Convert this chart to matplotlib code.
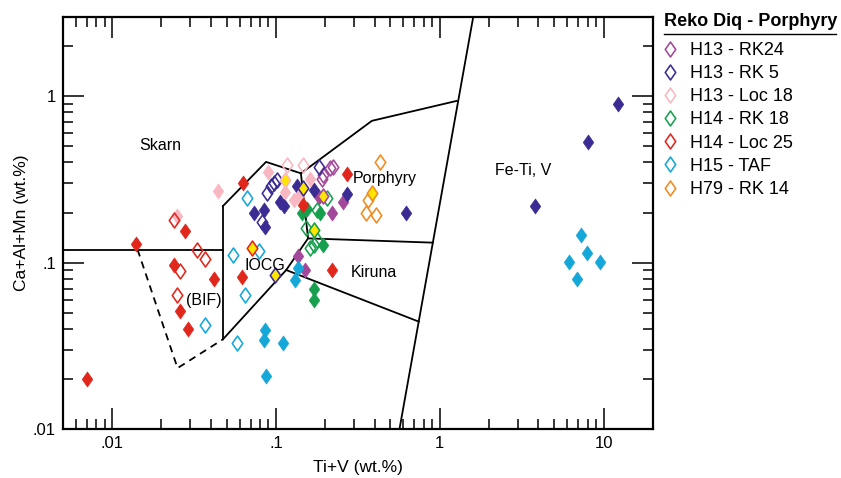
import matplotlib
matplotlib.use('Agg')
import matplotlib.pyplot as plt
import numpy as np
from matplotlib.path import Path
from matplotlib.lines import Line2D
from matplotlib.ticker import LogLocator, NullFormatter, FuncFormatter

plt.rcParams['font.family'] = ['Liberation Sans', 'DejaVu Sans']

# data: Ti+V (wt.%) vs Ca+Al+Mn (wt.%)
series_names = ['H13 - RK24', 'H13 - RK 5', 'H13 - Loc 18', 'H14 - RK 18',
                'H14 - Loc 25', 'H15 - TAF', 'H79 - RK 14']
series_colors = ['#a2479a', '#3b2c93', '#f9b7c1', '#16a04e',
                 '#e1261c', '#15a7d8', '#f28a1d']

# open symbols
rk24_open_x = [0.214, 0.224, 0.195, 0.19]
rk24_open_y = [0.368, 0.375, 0.336, 0.32]
rk5_open_x = [0.0885, 0.0936, 0.0976, 0.1019, 0.0825, 0.182]
rk5_open_y = [0.262, 0.288, 0.301, 0.313, 0.175, 0.377]
loc18_open_x = [0.117, 0.147]
loc18_open_y = [0.386, 0.386]
rk18_open_x = [0.205, 0.178, 0.153, 0.162, 0.170, 0.178]
rk18_open_y = [0.246, 0.207, 0.161, 0.122, 0.128, 0.137]
loc25_open_x = [0.024, 0.033, 0.037, 0.026, 0.025]
loc25_open_y = [0.18, 0.119, 0.105, 0.0895, 0.064]
taf_open_x = [0.067, 0.055, 0.079, 0.065, 0.037, 0.058]
taf_open_y = [0.243, 0.111, 0.118, 0.064, 0.042, 0.033]
rk14_open_x = [0.43, 0.367, 0.355, 0.41]
rk14_open_y = [0.40, 0.238, 0.198, 0.193]

# filled symbols
rk24_fill_x = [0.258, 0.221, 0.182, 0.137, 0.151]
rk24_fill_y = [0.232, 0.198, 0.249, 0.109, 0.090]
rk5_fill_x = [0.073, 0.085, 0.086, 0.106, 0.112, 0.134, 0.17, 0.27, 0.62, 3.8, 8.0, 12.2]
rk5_fill_y = [0.20, 0.207, 0.164, 0.232, 0.22, 0.29, 0.273, 0.26, 0.20, 0.22, 0.53, 0.90]
loc18_fill_x = [0.025, 0.044, 0.09, 0.114, 0.128, 0.162, 0.138]
loc18_fill_y = [0.19, 0.27, 0.35, 0.267, 0.238, 0.32, 0.25]
rk18_fill_x = [0.144, 0.186, 0.155, 0.195, 0.17, 0.17]
rk18_fill_y = [0.198, 0.198, 0.21, 0.128, 0.070, 0.060]
loc25_fill_x = [0.007, 0.014, 0.028, 0.0238, 0.042, 0.026, 0.029, 0.063, 0.062, 0.146, 0.273, 0.22]
loc25_fill_y = [0.020, 0.13, 0.154, 0.097, 0.080, 0.0515, 0.040, 0.30, 0.082, 0.222, 0.34, 0.091]
taf_fill_x = [7.3, 7.9, 6.1, 9.5, 6.85, 0.137, 0.131, 0.086, 0.084, 0.111, 0.087]
taf_fill_y = [0.147, 0.114, 0.101, 0.101, 0.0795, 0.0925, 0.079, 0.0395, 0.0344, 0.033, 0.021]
rk14_fill_x = []
rk14_fill_y = []

# yellow-filled symbols (edge in series colour)
rk24_yel_x = [0.195]
rk24_yel_y = [0.25]
rk5_yel_x = [0.147, 0.099]
rk5_yel_y = [0.28, 0.084]
loc18_yel_x = [0.114]
loc18_yel_y = [0.313]
rk18_yel_x = [0.17]
rk18_yel_y = [0.157]
loc25_yel_x = [0.071]
loc25_yel_y = [0.122]
taf_yel_x = []
taf_yel_y = []
rk14_yel_x = [0.385]
rk14_yel_y = [0.261]

open_x = [rk24_open_x, rk5_open_x, loc18_open_x, rk18_open_x, loc25_open_x, taf_open_x, rk14_open_x]
open_y = [rk24_open_y, rk5_open_y, loc18_open_y, rk18_open_y, loc25_open_y, taf_open_y, rk14_open_y]
fill_x = [rk24_fill_x, rk5_fill_x, loc18_fill_x, rk18_fill_x, loc25_fill_x, taf_fill_x, rk14_fill_x]
fill_y = [rk24_fill_y, rk5_fill_y, loc18_fill_y, rk18_fill_y, loc25_fill_y, taf_fill_y, rk14_fill_y]
yel_x = [rk24_yel_x, rk5_yel_x, loc18_yel_x, rk18_yel_x, loc25_yel_x, taf_yel_x, rk14_yel_x]
yel_y = [rk24_yel_y, rk5_yel_y, loc18_yel_y, rk18_yel_y, loc25_yel_y, taf_yel_y, rk14_yel_y]

# field boundaries (Ti+V, Ca+Al+Mn)
bif_top_x = [0.005, 0.0475]
bif_top_y = [0.12, 0.12]
iocg_left_x = [0.0475, 0.0475]
iocg_left_y = [0.219, 0.0347]
skarn_x = [0.0475, 0.087, 0.142, 0.385, 1.27]
skarn_y = [0.219, 0.403, 0.344, 0.711, 0.937]
big_x = [1.60, 0.567]
big_y = [3.0, 0.01]
porph_x = [0.142, 0.157, 0.906]
porph_y = [0.344, 0.140, 0.132]
iocg_diag_x = [0.0475, 0.1155, 0.157]
iocg_diag_y = [0.0347, 0.0904, 0.140]
kiruna_x = [0.1155, 0.744]
kiruna_y = [0.0904, 0.0443]
bif_dash_x = [0.0143, 0.0251, 0.0475]
bif_dash_y = [0.12, 0.0233, 0.0347]

field_names = ['Skarn', 'Porphyry', 'Fe-Ti, V', 'IOCG', 'Kiruna', '(BIF)']
field_x = [0.0197, 0.462, 3.23, 0.0861, 0.398, 0.0365]
field_y = [0.508, 0.321, 0.36, 0.0969, 0.087, 0.0597]

diamond = Path([(0, 1), (0.7, 0), (0, -1), (-0.7, 0), (0, 1)],
               [Path.MOVETO, Path.LINETO, Path.LINETO, Path.LINETO, Path.CLOSEPOLY])

fig = plt.figure(figsize=(8.41, 4.78), dpi=100)
ax = fig.add_axes([0.0746, 0.1019, 0.7019, 0.8632])

lw = 1.3
ax.plot(bif_top_x, bif_top_y, 'k-', lw=lw)
ax.plot(iocg_left_x, iocg_left_y, 'k-', lw=lw)
ax.plot(skarn_x, skarn_y, 'k-', lw=lw)
ax.plot(big_x, big_y, 'k-', lw=lw)
ax.plot(porph_x, porph_y, 'k-', lw=lw)
ax.plot(iocg_diag_x, iocg_diag_y, 'k-', lw=lw)
ax.plot(kiruna_x, kiruna_y, 'k-', lw=lw)
ax.plot(bif_dash_x, bif_dash_y, 'k-', lw=lw, dashes=(4, 3))

ms = 10.8
for i in range(len(series_names)):
    c = series_colors[i]
    ax.plot(fill_x[i], fill_y[i], linestyle='none', marker=diamond, ms=ms,
            mfc=c, mec=c, mew=0.5, zorder=3)
    ax.plot(open_x[i], open_y[i], linestyle='none', marker=diamond, ms=ms,
            mfc='none', mec=c, mew=1.15, label=series_names[i], zorder=4)
    ax.plot(yel_x[i], yel_y[i], linestyle='none', marker=diamond, ms=ms,
            mfc='#ffe600', mec=c, mew=1.15, zorder=5)

for name, x, y in zip(field_names, field_x, field_y):
    ax.text(x, y, name, fontsize=11.5, ha='center', va='center', zorder=6)

ax.set_xscale('log')
ax.set_yscale('log')
ax.set_xlim(0.005, 20)
ax.set_ylim(0.01, 3)

fmt = FuncFormatter(lambda v, _: ('%g' % v).lstrip('0'))
for axis in [ax.xaxis, ax.yaxis]:
    axis.set_major_locator(LogLocator(base=10))
    axis.set_minor_locator(LogLocator(base=10, subs=np.arange(2, 10)))
    axis.set_major_formatter(fmt)
    axis.set_minor_formatter(NullFormatter())
ax.tick_params(which='both', direction='in', top=True, right=True, width=1.1,
               labelsize=12, pad=5)
ax.tick_params(which='major', length=15)
ax.tick_params(which='minor', length=7.5)
for s in ax.spines.values():
    s.set_linewidth(1.6)

ax.set_xlabel('Ti+V (wt.%)', fontsize=12.5, labelpad=6)
ax.set_ylabel('Ca+Al+Mn (wt.%)', fontsize=12.5, labelpad=3)

# legend: title and rule drawn as figure text, entries via ax.legend
fig.text(664 / 841, 1 - 22 / 478, 'Reko Diq - Porphyry', fontsize=13,
         fontweight='bold', ha='left', va='center')
fig.add_artist(Line2D([664 / 841, 836 / 841], [1 - 33.5 / 478] * 2,
                      transform=fig.transFigure, color='black', lw=1.0))
leg = ax.legend(loc='upper left', bbox_to_anchor=(661 / 841, 1 - 42 / 478),
                bbox_transform=fig.transFigure, frameon=False,
                fontsize=13, handlelength=1.0, handletextpad=0.6,
                labelspacing=0.34, borderpad=0, borderaxespad=0)

fig.savefig('out.png', dpi=100)
